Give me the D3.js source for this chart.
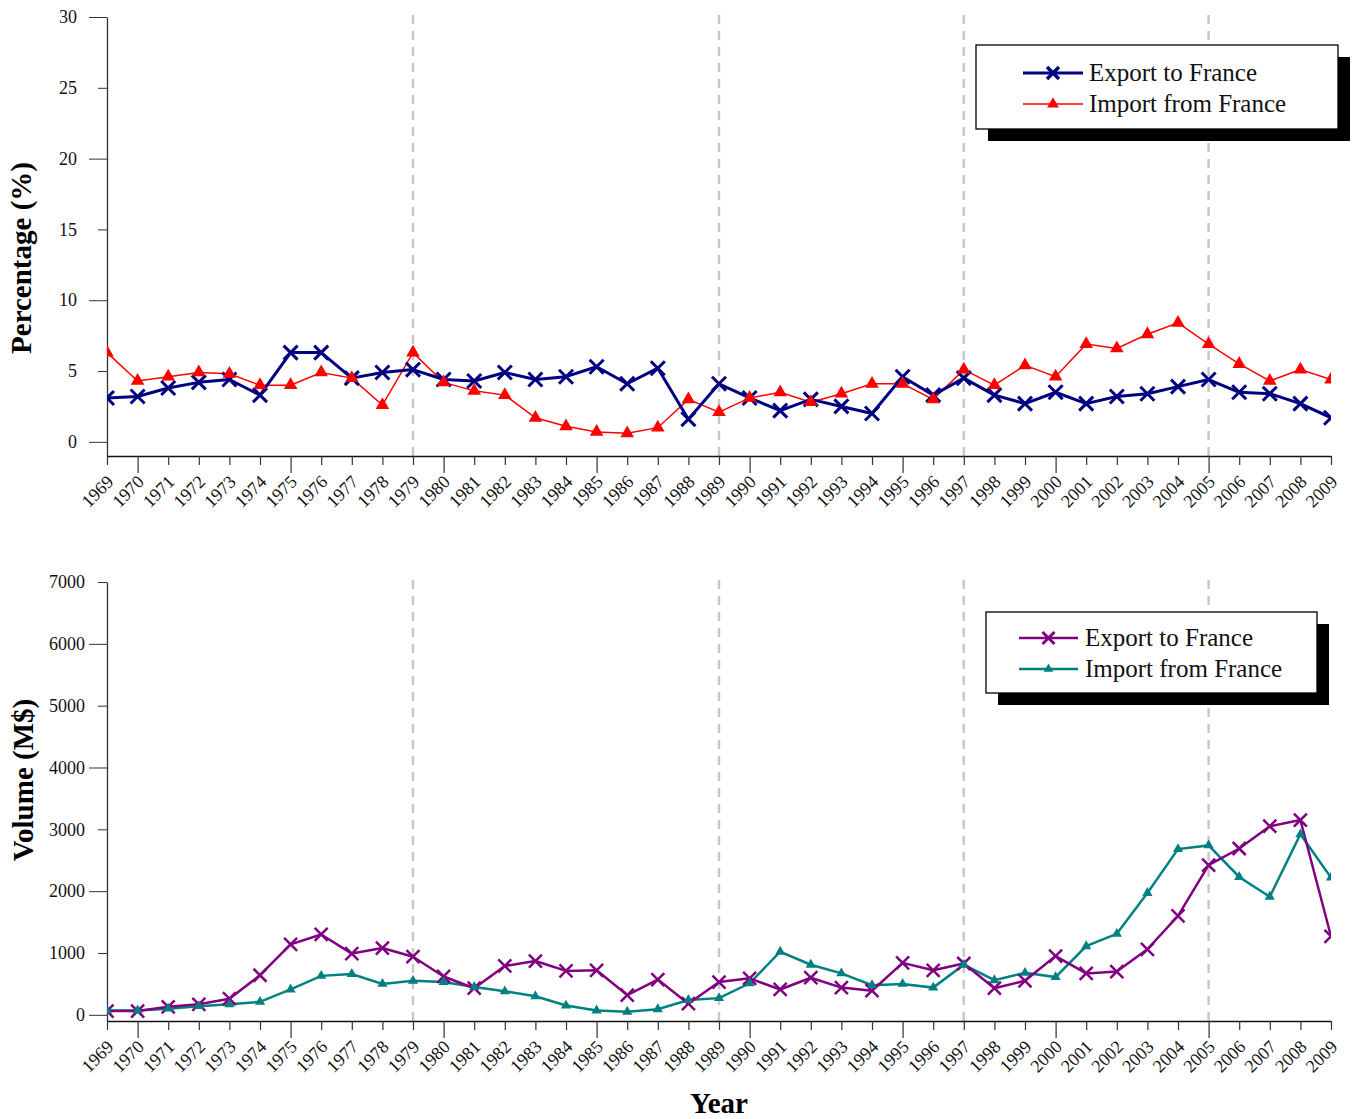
<!DOCTYPE html>
<html>
<head>
<meta charset="utf-8">
<script src="https://cdn.jsdelivr.net/npm/d3@7"></script>
<style>
  body { margin: 0; background: #fff; }
  svg { display: block; font-family: "Liberation Serif", "Times New Roman", serif; }
</style>
</head>
<body>
<svg id="chart" width="1352" height="1119"></svg>
<script>
// ======= DATA =======
const years = [1969, 1970, 1971, 1972, 1973, 1974, 1975, 1976, 1977, 1978, 1979, 1980,
  1981, 1982, 1983, 1984, 1985, 1986, 1987, 1988, 1989, 1990, 1991, 1992, 1993, 1994,
  1995, 1996, 1997, 1998, 1999, 2000, 2001, 2002, 2003, 2004, 2005, 2006, 2007, 2008, 2009];

// share of trade (%)
const exportPct = [3.1, 3.2, 3.8, 4.2, 4.4, 3.3, 6.3, 6.3, 4.5, 4.9, 5.1, 4.4,
  4.3, 4.9, 4.4, 4.6, 5.3, 4.1, 5.2, 1.6, 4.1, 3.1, 2.2, 3.0, 2.5, 2.0,
  4.6, 3.3, 4.5, 3.3, 2.7, 3.5, 2.7, 3.2, 3.4, 3.9, 4.4, 3.5, 3.4, 2.7, 1.7];
const importPct = [6.3, 4.3, 4.6, 4.9, 4.8, 4.0, 4.0, 4.9, 4.5, 2.6, 6.3, 4.2,
  3.6, 3.3, 1.7, 1.1, 0.7, 0.6, 1.0, 3.0, 2.1, 3.1, 3.5, 2.8, 3.4, 4.1,
  4.1, 3.0, 5.1, 4.0, 5.4, 4.6, 6.9, 6.6, 7.6, 8.4, 6.9, 5.5, 4.3, 5.1, 4.4];

// volume (M$)
const exportVol = [60, 60, 130, 170, 260, 640, 1140, 1300, 990, 1080, 940, 620,
  430, 790, 870, 710, 720, 320, 570, 180, 530, 590, 410, 600, 440, 390,
  840, 720, 830, 430, 550, 950, 670, 700, 1060, 1600, 2420, 2690, 3050, 3150, 1270];
const importVol = [70, 70, 100, 140, 170, 210, 410, 630, 660, 500, 550, 530,
  450, 380, 300, 150, 70, 50, 90, 240, 270, 510, 1020, 810, 670, 480,
  500, 440, 810, 560, 680, 610, 1110, 1310, 1970, 2680, 2740, 2230, 1910, 2920, 2220];

const pctTicks = [0, 5, 10, 15, 20, 25, 30];
const volTicks = [0, 1000, 2000, 3000, 4000, 5000, 6000, 7000];
const markerYears = [1979, 1989, 1997, 2005];
const seriesNames = ["Export to France", "Import from France"];

// ======= SETUP =======
const svg = d3.select("#chart");

const x = d3.scaleLinear().domain([1969, 2009]).range([107, 1331]);

svg.append("defs").append("clipPath")
  .attr("id", "plotclip")
  .append("rect")
  .attr("x", 107).attr("y", 0)
  .attr("width", 1331 - 107).attr("height", 1119);

const xMark = h => `M${-h},${-h}L${h},${h}M${-h},${h}L${h},${-h}`;

// one panel = axes + dashed years + two series + legend
function drawPanel(cfg) {
  const y = d3.scaleLinear().domain(cfg.domain).range([cfg.bottom, cfg.top]);
  const g = svg.append("g");

  // dashed year lines
  g.selectAll(".vline")
    .data(markerYears)
    .join("line")
    .attr("x1", d => x(d)).attr("x2", d => x(d))
    .attr("y1", cfg.top - 2).attr("y2", cfg.bottom)
    .attr("stroke", "#c8c8c8")
    .attr("stroke-width", 2.5)
    .attr("stroke-dasharray", "9,7");

  // y axis (long ticks alternate with short ones)
  const yAxis = g.append("g")
    .attr("transform", `translate(${x.range()[0]},0)`)
    .call(d3.axisLeft(y).tickValues(cfg.ticks).tickFormat(d3.format("d"))
      .tickSize(18).tickSizeOuter(0))
    .attr("font-family", null);
  yAxis.select(".domain").attr("stroke", "#333").attr("stroke-width", 1.3);
  yAxis.selectAll(".tick line")
    .attr("stroke", "#333")
    .attr("x2", (d, i) => i % 2 === 0 ? -18 : -9);
  yAxis.selectAll(".tick text")
    .attr("x", -cfg.labelOff)
    .attr("fill", "#111")
    .style("font-size", "18px");

  // x axis
  const xAxis = g.append("g")
    .attr("transform", `translate(0,${cfg.bottom})`)
    .call(d3.axisBottom(x).tickValues(years).tickFormat(d3.format("d")).tickSize(9).tickSizeOuter(0))
    .attr("font-family", null);
  xAxis.select(".domain").attr("stroke", "#111").attr("stroke-width", 1.5);
  xAxis.selectAll(".tick line")
    .attr("stroke", "#333")
    .attr("stroke-width", 1.2)
    .attr("y2", d => d % 5 === 0 ? 17 : 9);
  xAxis.selectAll(".tick text")
    .attr("fill", "#111")
    .style("font-size", "18px")
    .attr("text-anchor", "end")
    .attr("dy", null)
    .attr("y", null)
    .attr("transform", "translate(7,27) rotate(-45)");

  // y title
  g.append("text")
    .attr("transform", `translate(${cfg.titleX},${cfg.titleY}) rotate(-90)`)
    .attr("text-anchor", "middle")
    .style("font-size", "29px")
    .style("font-weight", "bold")
    .text(cfg.title);

  // series
  const plot = g.append("g").attr("clip-path", "url(#plotclip)");
  const line = d3.line().x((d, i) => x(years[i])).y(d => y(d));

  plot.append("path")
    .datum(cfg.importVals)
    .attr("fill", "none")
    .attr("stroke", cfg.importColor)
    .attr("stroke-width", cfg.importWidth)
    .attr("d", line);

  plot.append("path")
    .datum(cfg.exportVals)
    .attr("fill", "none")
    .attr("stroke", cfg.exportColor)
    .attr("stroke-width", cfg.exportWidth)
    .attr("stroke-linejoin", "round")
    .attr("d", line);

  const tri = d3.symbol(d3.symbolTriangle, cfg.triSize);

  plot.selectAll(".xm")
    .data(cfg.exportVals)
    .join("path")
    .attr("transform", (d, i) => `translate(${x(years[i])},${y(d)})`)
    .attr("d", xMark(cfg.xHalf))
    .attr("stroke", cfg.exportColor)
    .attr("stroke-width", cfg.exportWidth)
    .attr("fill", "none");

  plot.selectAll(".tm")
    .data(cfg.importVals)
    .join("path")
    .attr("transform", (d, i) => `translate(${x(years[i])},${y(d)})`)
    .attr("d", tri)
    .attr("fill", cfg.importColor);

  // legend
  const L = cfg.legend;
  const lg = g.append("g");
  lg.append("rect")
    .attr("x", L.x + 12).attr("y", L.y + 12)
    .attr("width", L.w).attr("height", L.h)
    .attr("fill", "#000");
  lg.append("rect")
    .attr("x", L.x).attr("y", L.y)
    .attr("width", L.w).attr("height", L.h)
    .attr("fill", "#fff")
    .attr("stroke", "#000")
    .attr("stroke-width", 1.3);

  const rows = [
    { name: seriesNames[0], color: cfg.exportColor, width: cfg.exportWidth, kind: "x" },
    { name: seriesNames[1], color: cfg.importColor, width: cfg.importWidth, kind: "tri" }
  ];
  rows.forEach((r, i) => {
    const ry = L.rowY[i];
    lg.append("line")
      .attr("x1", L.lineX0).attr("x2", L.lineX1)
      .attr("y1", ry).attr("y2", ry)
      .attr("stroke", r.color)
      .attr("stroke-width", r.width);
    const mx = (L.lineX0 + L.lineX1) / 2;
    if (r.kind === "x") {
      lg.append("path")
        .attr("transform", `translate(${mx},${ry})`)
        .attr("d", xMark(L.xHalf))
        .attr("stroke", r.color)
        .attr("stroke-width", cfg.exportWidth + 0.5)
        .attr("fill", "none");
    } else {
      lg.append("path")
        .attr("transform", `translate(${mx},${ry})`)
        .attr("d", d3.symbol(d3.symbolTriangle, L.triSize))
        .attr("fill", r.color);
    }
    lg.append("text")
      .attr("x", L.textX)
      .attr("y", ry + 8)
      .style("font-size", "25px")
      .attr("fill", "#111")
      .text(r.name);
  });
}

// ======= PANELS =======
drawPanel({
  domain: [-1, 30], top: 17, bottom: 456,
  ticks: pctTicks, labelOff: 30,
  title: "Percentage (%)", titleX: 31, titleY: 258,
  exportVals: exportPct, importVals: importPct,
  exportColor: "#000080", importColor: "#ff0000",
  exportWidth: 3, importWidth: 1.5,
  xHalf: 7, triSize: 80,
  legend: { x: 976, y: 45, w: 362, h: 84, rowY: [73, 104],
            lineX0: 1023, lineX1: 1083, textX: 1089, xHalf: 6, triSize: 60 }
});

drawPanel({
  domain: [-100, 7000], top: 582, bottom: 1021,
  ticks: volTicks, labelOff: 22,
  title: "Volume (M$)", titleX: 33, titleY: 780,
  exportVals: exportVol, importVals: importVol,
  exportColor: "#800080", importColor: "#008080",
  exportWidth: 2.5, importWidth: 2.5,
  xHalf: 6.5, triSize: 45,
  legend: { x: 986, y: 612, w: 331, h: 81, rowY: [638, 669],
            lineX0: 1019, lineX1: 1078, textX: 1085, xHalf: 6, triSize: 40 }
});

// x title
svg.append("text")
  .attr("x", 719).attr("y", 1113)
  .attr("text-anchor", "middle")
  .style("font-size", "29px")
  .style("font-weight", "bold")
  .text("Year");
</script>
</body>
</html>
